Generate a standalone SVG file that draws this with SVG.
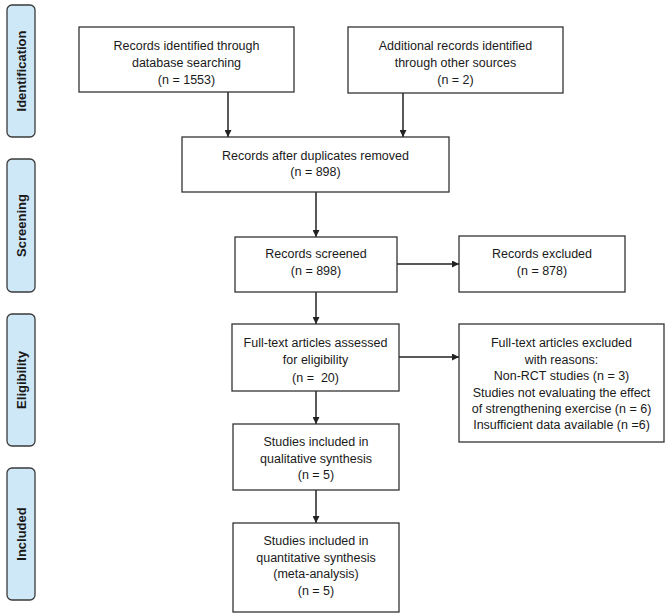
<svg xmlns="http://www.w3.org/2000/svg" width="669" height="616" viewBox="0 0 669 616">
<defs>
<style>
.box{fill:#fff;stroke:#333;stroke-width:1.3}
.side{fill:#cfe8f8;stroke:#3a3a3a;stroke-width:1.3}
.t{font-family:"Liberation Sans",Arial,sans-serif;font-size:12.5px;fill:#1a1a1a;text-anchor:middle}
.s{font-family:"Liberation Sans",Arial,sans-serif;font-size:13px;font-weight:bold;fill:#1a1a1a;text-anchor:middle}
.c{stroke:#222;stroke-width:1.5;fill:none;marker-end:url(#ah)}
</style>
<marker id="ah" viewBox="0 0 10 10" refX="10" refY="5" markerWidth="7" markerHeight="7" markerUnits="userSpaceOnUse" orient="auto">
<path d="M0,0 L10,5 L0,10 z" fill="#222"/>
</marker>
</defs>
<rect width="669" height="616" fill="#fff"/>
<g id="side-identification"><rect class="side" x="7" y="5" width="28" height="132" rx="5"/><text class="s" transform="translate(25.5,71) rotate(-90)">Identification</text></g>
<g id="side-screening"><rect class="side" x="7" y="159" width="28" height="133" rx="5"/><text class="s" transform="translate(25.5,225.5) rotate(-90)">Screening</text></g>
<g id="side-eligibility"><rect class="side" x="7" y="314" width="28" height="132" rx="5"/><text class="s" transform="translate(25.5,380) rotate(-90)">Eligibility</text></g>
<g id="side-included"><rect class="side" x="7" y="468" width="28" height="132" rx="5"/><text class="s" transform="translate(25.5,534) rotate(-90)">Included</text></g>
<g id="connectors">
<line class="c" x1="228" y1="92" x2="228" y2="137"/>
<line class="c" x1="403" y1="93" x2="403" y2="137"/>
<line class="c" x1="316" y1="192" x2="316" y2="237"/>
<line class="c" x1="397" y1="264" x2="459" y2="264"/>
<line class="c" x1="316" y1="292" x2="316" y2="324"/>
<line class="c" x1="399" y1="357" x2="459" y2="357"/>
<line class="c" x1="316" y1="391" x2="316" y2="424"/>
<line class="c" x1="316" y1="490" x2="316" y2="523"/>
</g>
<g id="n1"><rect class="box" x="79" y="27" width="215" height="65"/><text class="t" x="186.5" y="49.5">Records identified through</text><text class="t" x="186.5" y="66.5">database searching</text><text class="t" x="186.5" y="84">(n = 1553)</text></g>
<g id="n2"><rect class="box" x="348" y="27" width="215" height="66"/><text class="t" x="455.5" y="49.5">Additional records identified</text><text class="t" x="455.5" y="66.5">through other sources</text><text class="t" x="455.5" y="84">(n = 2)</text></g>
<g id="n3"><rect class="box" x="182" y="137" width="267" height="55"/><text class="t" x="315.5" y="159.5">Records after duplicates removed</text><text class="t" x="315.5" y="175.5">(n = 898)</text></g>
<g id="n4"><rect class="box" x="235" y="237" width="162" height="55"/><text class="t" x="316" y="258">Records screened</text><text class="t" x="316" y="275">(n = 898)</text></g>
<g id="n5"><rect class="box" x="459" y="236" width="166" height="56"/><text class="t" x="542" y="258">Records excluded</text><text class="t" x="542" y="275">(n = 878)</text></g>
<g id="n6"><rect class="box" x="232" y="324" width="167" height="67"/><text class="t" x="315.5" y="347">Full-text articles assessed</text><text class="t" x="315.5" y="364">for eligibility</text><text class="t" x="315.5" y="382" xml:space="preserve">(n =  20)</text></g>
<g id="n7"><rect class="box" x="459" y="324" width="205" height="118"/><text class="t" x="561.5" y="347">Full-text articles excluded</text><text class="t" x="561.5" y="363.5">with reasons:</text><text class="t" x="561.5" y="380">Non-RCT studies (n = 3)</text><text class="t" x="561.5" y="396.5">Studies not evaluating the effect</text><text class="t" x="561.5" y="413">of strengthening exercise (n = 6)</text><text class="t" x="561.5" y="428.5">Insufficient data available (n =6)</text></g>
<g id="n8"><rect class="box" x="233" y="424" width="166" height="66"/><text class="t" x="316" y="446">Studies included in</text><text class="t" x="316" y="462.5">qualitative synthesis</text><text class="t" x="316" y="479">(n = 5)</text></g>
<g id="n9"><rect class="box" x="233" y="523" width="166" height="89"/><text class="t" x="316" y="545">Studies included in</text><text class="t" x="316" y="561.5">quantitative synthesis</text><text class="t" x="316" y="578">(meta-analysis)</text><text class="t" x="316" y="595">(n = 5)</text></g>
</svg>
